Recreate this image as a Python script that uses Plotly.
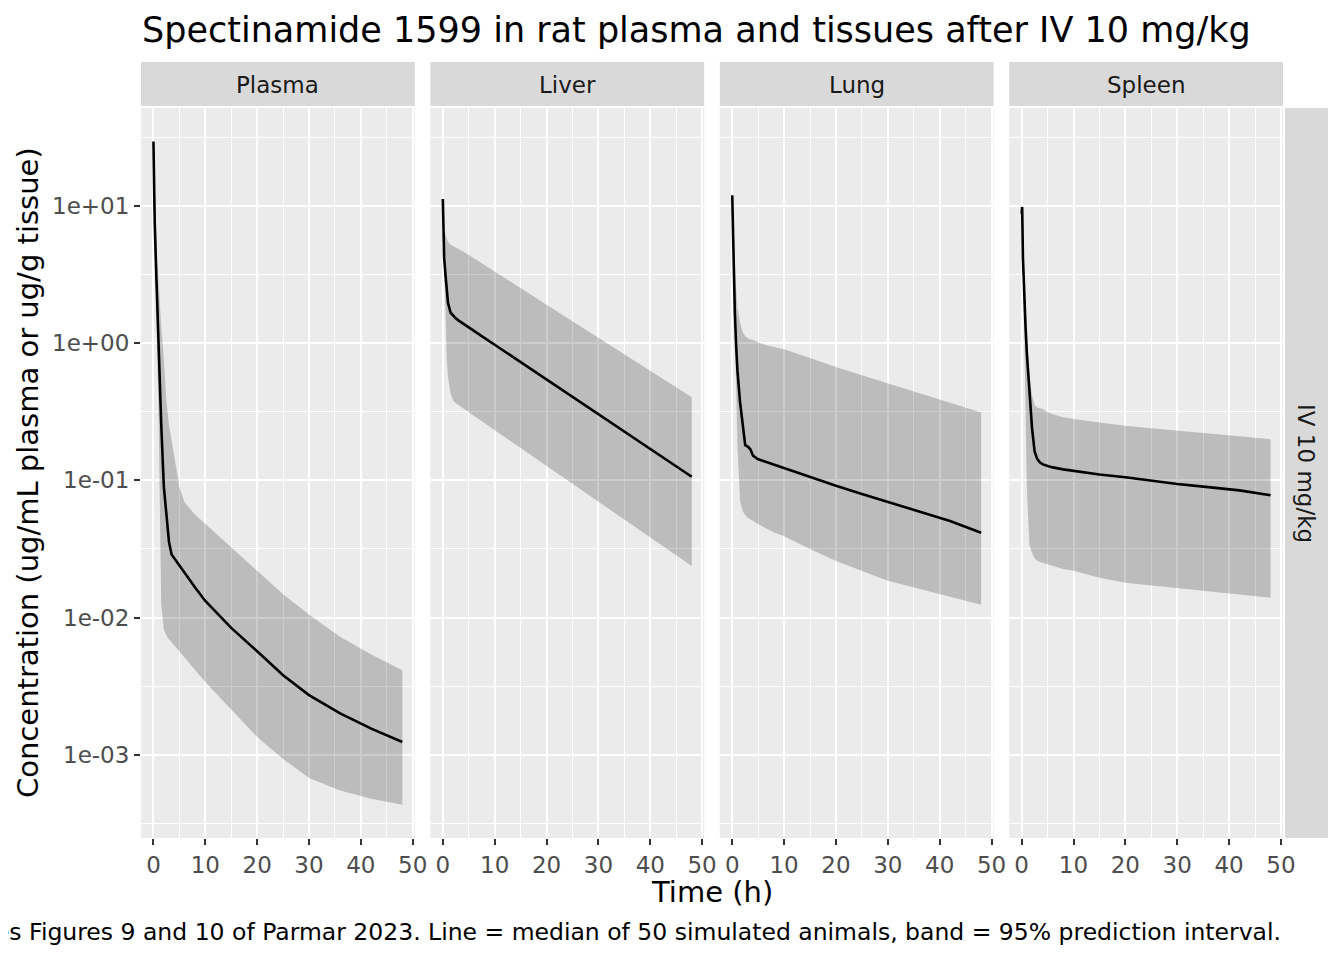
import numpy as np
import plotly.graph_objects as go

# simulated time grid (h), shared by every panel
time_h = [0, 0.1, 0.25, 0.5, 0.75, 1, 1.5, 2, 2.5, 3, 3.5, 4, 5, 6, 8, 10, 15, 20, 25, 30, 36, 42, 48]

# concentrations: median line, lower / upper 95% prediction interval
plasma_med = [29.3, 14.1, 7.45, 3.56, 1.70, 0.847, 0.258, 0.0899, 0.0550, 0.0355, 0.0288, 0.0271, 0.0237,
              0.0213, 0.0166, 0.0132, 0.0084, 0.00568, 0.0038, 0.00272, 0.0020, 0.00155, 0.00124]
plasma_lo = [27.5, 12.6, 6.31, 2.0, 0.708, 0.282, 0.0126, 0.00813, 0.00741, 0.00692, 0.00661, 0.00631, 0.00575,
             0.00513, 0.00417, 0.00339, 0.00214, 0.00135, 0.000933, 0.000676, 0.000550, 0.000479, 0.000432]
plasma_hi = [29.5, 20.0, 12.6, 7.08, 3.98, 2.63, 1.32, 0.759, 0.380, 0.251, 0.200, 0.151, 0.0891,
             0.0692, 0.0562, 0.0479, 0.0324, 0.0219, 0.0148, 0.0105, 0.00724, 0.00537, 0.00412]

liver_med = [11.2, 6.03, 4.17, 3.16, 2.51, 1.95, 1.66, 1.57, 1.51, 1.46, 1.42, 1.38, 1.30,
             1.23, 1.09, 0.970, 0.726, 0.542, 0.405, 0.302, 0.213, 0.150, 0.106]
liver_lo = [11.0, 5.01, 3.16, 1.78, 0.759, 0.562, 0.427, 0.380, 0.363, 0.351, 0.340, 0.330, 0.311,
            0.293, 0.260, 0.231, 0.171, 0.127, 0.0940, 0.0697, 0.0486, 0.0340, 0.0237]
liver_hi = [11.2, 8.32, 6.92, 6.17, 5.75, 5.43, 5.19, 5.07, 4.95, 4.88, 4.74, 4.61, 4.37,
            4.13, 3.70, 3.30, 2.51, 1.90, 1.44, 1.09, 0.782, 0.561, 0.402]

lung_med = [11.9, 7.08, 3.98, 1.66, 0.955, 0.631, 0.372, 0.251, 0.180, 0.176, 0.168, 0.151, 0.142,
            0.138, 0.130, 0.122, 0.105, 0.0910, 0.0794, 0.0695, 0.0597, 0.0505, 0.0415]
lung_lo = [11.7, 6.31, 3.16, 1.26, 0.468, 0.178, 0.0708, 0.0596, 0.0556, 0.0531, 0.0516, 0.0506, 0.0479,
           0.0455, 0.0417, 0.0391, 0.0316, 0.0258, 0.0219, 0.0185, 0.0162, 0.0141, 0.0124]
lung_hi = [11.9, 7.94, 5.62, 3.55, 2.51, 1.82, 1.41, 1.20, 1.12, 1.08, 1.06, 1.05, 1.01,
           0.977, 0.933, 0.900, 0.776, 0.667, 0.582, 0.507, 0.431, 0.367, 0.312]

spleen_med = [8.7, 9.77, 4.17, 2.04, 1.32, 0.851, 0.417, 0.240, 0.162, 0.143, 0.135, 0.131, 0.127,
              0.124, 0.120, 0.117, 0.110, 0.105, 0.0993, 0.0940, 0.0891, 0.0843, 0.0778]
spleen_lo = [8.51, 7.94, 3.16, 1.26, 0.398, 0.0891, 0.0339, 0.0295, 0.0269, 0.0260, 0.0254, 0.0249, 0.0243,
             0.0237, 0.0226, 0.0219, 0.0195, 0.0179, 0.0170, 0.0162, 0.0155, 0.0147, 0.0139]
spleen_hi = [8.91, 10.0, 5.62, 2.82, 1.66, 1.05, 0.575, 0.417, 0.351, 0.339, 0.335, 0.331, 0.313,
             0.302, 0.288, 0.279, 0.263, 0.249, 0.239, 0.229, 0.219, 0.209, 0.199]

panel_names = ['Plasma', 'Liver', 'Lung', 'Spleen']
dose_label = 'IV 10 mg/kg'
x_ticks = [0, 10, 20, 30, 40, 50]
x_minor = [5, 15, 25, 35, 45]
y_ticks = [1e-3, 1e-2, 1e-1, 1e0, 1e1]
y_ticktext = ['1e-03', '1e-02', '1e-01', '1e+00', '1e+01']
y_minor = [10 ** -3.5, 10 ** -2.5, 10 ** -1.5, 10 ** -0.5, 10 ** 0.5, 10 ** 1.5]

series = [(plasma_med, plasma_lo, plasma_hi), (liver_med, liver_lo, liver_hi),
          (lung_med, lung_lo, lung_hi), (spleen_med, spleen_lo, spleen_hi)]

# page geometry in window pixels; the page body adds an 8px margin around the figure
OFF = 8
W, H = 1344 - 2 * OFF, 960 - 2 * OFF
panel_left = [141, 430.4, 719.8, 1009.2]
panel_w = 273.8
panel_top, panel_bottom = 108, 838
FONT = 'DejaVu Sans'


def px_x(x):
    return (x - OFF) / W


def px_y(y):
    return 1 - (y - OFF) / H


# ggplot-style 5% expansion of the shared ranges
all_vals = np.concatenate([np.array(v) for s in series for v in s])
lmin, lmax = np.log10(all_vals.min()), np.log10(all_vals.max())
ypad = 0.05 * (lmax - lmin)
y_range = [lmin - ypad, lmax + ypad]
xpad = 0.05 * (max(time_h) - min(time_h))
x_range = [min(time_h) - xpad, max(time_h) + xpad]

fig = go.Figure()
layout = {}
shapes = []
annotations = []

for i, (name, (med, lo, hi)) in enumerate(zip(panel_names, series)):
    sfx = '' if i == 0 else str(i + 1)
    fig.add_trace(go.Scatter(x=time_h + time_h[::-1], y=hi + lo[::-1], fill='toself',
                             fillcolor='rgba(0,0,0,0.2)', line=dict(width=0), mode='lines',
                             xaxis='x' + sfx, yaxis='y' + sfx, showlegend=False, hoverinfo='skip'))
    fig.add_trace(go.Scatter(x=time_h, y=med, mode='lines', line=dict(color='black', width=2.6),
                             xaxis='x' + sfx, yaxis='y' + sfx, showlegend=False))

    x0 = px_x(panel_left[i])
    x1 = px_x(panel_left[i] + panel_w)
    layout['xaxis' + sfx] = dict(domain=[x0, x1], range=x_range, anchor='y' + sfx, automargin=False,
                                 tickmode='array', tickvals=x_ticks, ticks='outside', ticklen=6,
                                 tickwidth=2.2, tickcolor='#333333',
                                 tickfont=dict(family=FONT, size=23, color='#4D4D4D'),
                                 showgrid=True, gridcolor='white', gridwidth=2.4,
                                 minor=dict(tickvals=x_minor, showgrid=True, gridcolor='white', gridwidth=1.2, ticks=''),
                                 zeroline=False, showline=False)
    ycfg = dict(domain=[px_y(panel_bottom), px_y(panel_top)], type='log', range=y_range,
                anchor='x' + sfx, automargin=False, tickmode='array', tickvals=y_ticks, ticktext=y_ticktext,
                showgrid=True, gridcolor='white', gridwidth=2.4,
                minor=dict(tickvals=y_minor, showgrid=True, gridcolor='white', gridwidth=1.2, ticks=''),
                zeroline=False, showline=False)
    if i == 0:
        ycfg.update(ticks='outside', ticklen=6, tickwidth=2.2, tickcolor='#333333',
                    tickfont=dict(family=FONT, size=23, color='#4D4D4D'))
    else:
        ycfg.update(ticks='', showticklabels=False, matches='y')
    layout['yaxis' + sfx] = ycfg

    # facet strip on top
    shapes.append(dict(type='rect', xref='paper', yref='paper', x0=x0, x1=x1,
                       y0=px_y(106), y1=px_y(62), fillcolor='#D9D9D9', line=dict(width=0), layer='below'))
    annotations.append(dict(text=name, xref='paper', yref='paper', x=(x0 + x1) / 2, y=px_y(85),
                            xanchor='center', yanchor='middle', showarrow=False,
                            font=dict(family=FONT, size=23, color='#1A1A1A')))

# strip on the right
shapes.append(dict(type='rect', xref='paper', yref='paper', x0=px_x(1285), x1=px_x(1328),
                   y0=px_y(panel_bottom), y1=px_y(panel_top), fillcolor='#D9D9D9',
                   line=dict(width=0), layer='below'))
annotations.append(dict(text=dose_label, xref='paper', yref='paper', x=px_x(1306),
                        y=px_y((panel_top + panel_bottom) / 2), textangle=90, showarrow=False,
                        xanchor='center', yanchor='middle', font=dict(family=FONT, size=23, color='#1A1A1A')))

# titles and caption
annotations.append(dict(text='Spectinamide 1599 in rat plasma and tissues after IV 10 mg/kg',
                        xref='paper', yref='paper', x=px_x(140), y=px_y(30), xanchor='left',
                        yanchor='middle', showarrow=False, font=dict(family=FONT, size=35, color='black')))
annotations.append(dict(text='Time (h)', xref='paper', yref='paper',
                        x=px_x((panel_left[0] + panel_left[-1] + panel_w) / 2), y=px_y(892),
                        xanchor='center', yanchor='middle', showarrow=False,
                        font=dict(family=FONT, size=29, color='black')))
annotations.append(dict(text='Concentration (ug/mL plasma or ug/g tissue)', xref='paper', yref='paper',
                        x=px_x(28), y=px_y((panel_top + panel_bottom) / 2), textangle=-90,
                        xanchor='center', yanchor='middle', showarrow=False,
                        font=dict(family=FONT, size=29, color='black')))
annotations.append(dict(text='Reproduces Figures 9 and 10 of Parmar 2023. Line = median of 50 simulated animals, '
                             'band = 95% prediction interval.',
                        xref='paper', yref='paper', x=px_x(panel_left[-1] + panel_w), y=px_y(932),
                        xanchor='right', yanchor='middle', showarrow=False,
                        font=dict(family=FONT, size=23.5, color='black')))

fig.update_layout(width=W, height=H, margin=dict(l=0, r=0, t=0, b=0, autoexpand=False),
                  paper_bgcolor='white', plot_bgcolor='#EBEBEB',
                  font=dict(family=FONT), shapes=shapes, annotations=annotations,
                  showlegend=False, **layout)

fig.write_html('out.html')
